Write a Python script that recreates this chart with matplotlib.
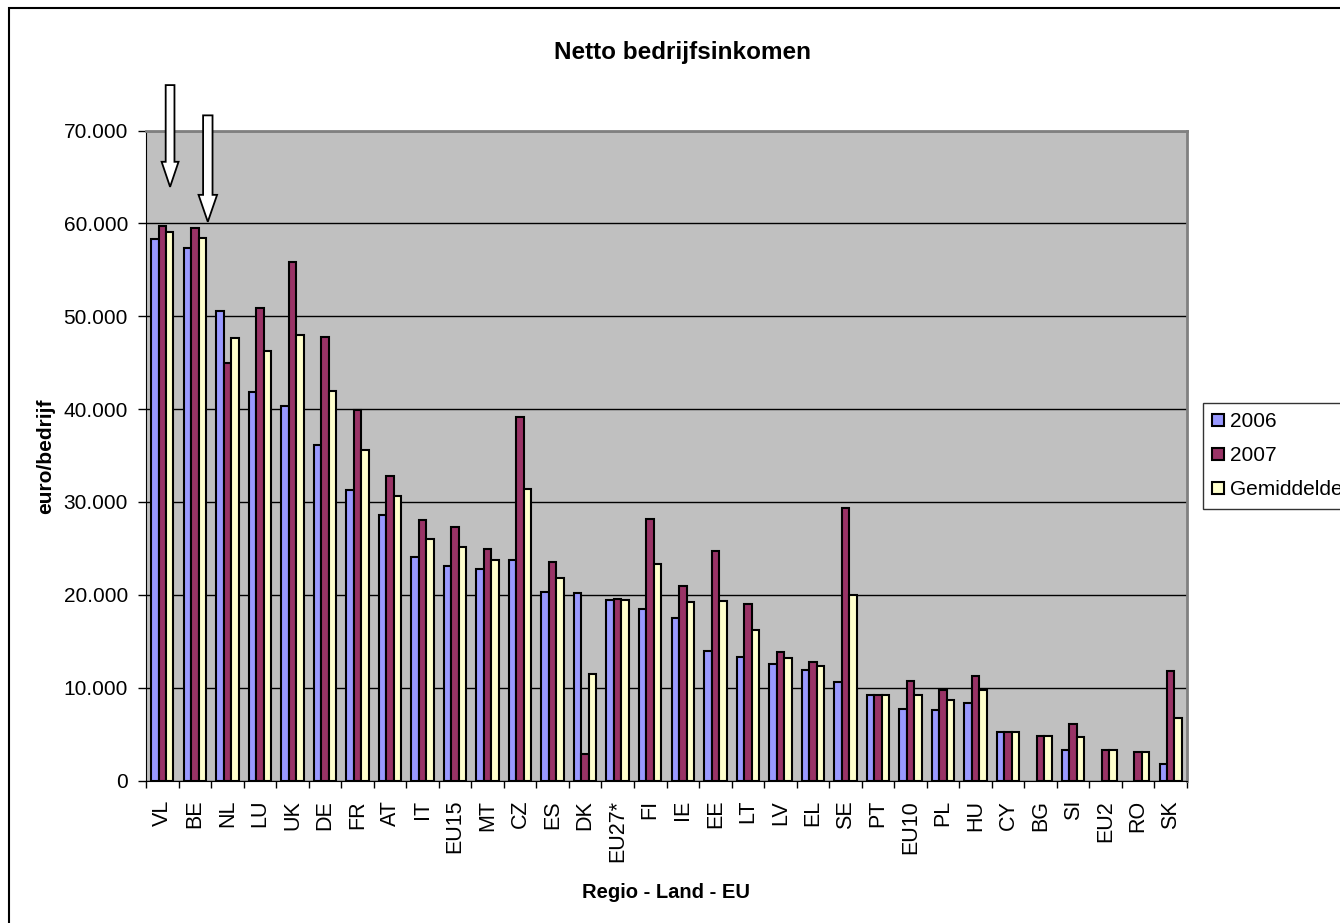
import matplotlib
matplotlib.use("Agg")
import matplotlib.pyplot as plt
from matplotlib.patches import FancyArrow, Rectangle
from matplotlib.ticker import FuncFormatter, FixedLocator
import numpy as np

plt.rcParams['font.family'] = ['Liberation Sans', 'DejaVu Sans']

# data (euro/bedrijf)
landen = ['VL', 'BE', 'NL', 'LU', 'UK', 'DE', 'FR', 'AT', 'IT', 'EU15', 'MT', 'CZ',
          'ES', 'DK', 'EU27*', 'FI', 'IE', 'EE', 'LT', 'LV', 'EL', 'SE', 'PT', 'EU10',
          'PL', 'HU', 'CY', 'BG', 'SI', 'EU2', 'RO', 'SK']
j2006 = [58350, 57360, 50540, 41800, 40320, 36120, 31320, 28610, 24060, 23070, 22730, 23720,
         20280, 20200, 19390, 18450, 17470, 13990, 13350, 12580, 11950, 10560, 9260, 7680,
         7580, 8400, 5210, 0, 3300, 0, 0, 1760]
j2007 = [59680, 59530, 44910, 50840, 55830, 47730, 39920, 32810, 28010, 27270, 24900, 39160,
         23510, 2810, 19560, 28190, 21000, 24700, 19050, 13820, 12710, 29300, 9160, 10700,
         9800, 11240, 5240, 4780, 6100, 3300, 3090, 11780]
gemiddelde = [59040, 58450, 47680, 46290, 48020, 41950, 35620, 30680, 26040, 25150, 23770, 31420,
              21850, 11520, 19470, 23340, 19220, 19350, 16200, 13180, 12330, 19930, 9230, 9190,
              8690, 9800, 5210, 4740, 4700, 3300, 3090, 6750]
reeksen = ['2006', '2007', 'Gemiddelde']
kleuren = ['#9999FF', '#993366', '#FFFFCC']

fig = plt.figure(figsize=(13.4, 9.23), dpi=100)
ax = fig.add_axes([146 / 1340, 1 - 780.5 / 923, (1187 - 146) / 1340, (780.5 - 130.5) / 923])
ax.set_facecolor('#C0C0C0')

x = np.arange(len(landen))
w = 0.23
bars = []
for i, (vals, kl) in enumerate(zip([j2006, j2007, gemiddelde], kleuren)):
    b = ax.bar(x + (i - 1) * w, vals, w, color=kl, edgecolor='black',
               linewidth=1.5, zorder=3)
    # empty values are not drawn at all
    for r, v in zip(b.patches, vals):
        if v == 0:
            r.set_visible(False)
    bars.append(b)

ax.set_xlim(-0.5, len(landen) - 0.5)
ax.set_ylim(0, 70000)
ax.set_yticks(np.arange(0, 70001, 10000))
ax.yaxis.set_major_formatter(FuncFormatter(lambda v, p: '0' if v == 0 else '{:,.0f}'.format(v).replace(',', '.')))
ax.grid(axis='y', color='black', linewidth=1, zorder=1)

# labels in the middle of the groups, tick marks between them
ax.set_xticks(x)
ax.set_xticklabels(landen, rotation=90)
ax.xaxis.set_minor_locator(FixedLocator(np.arange(-0.5, len(landen), 1)))
ax.tick_params(axis='x', which='major', length=0, pad=14, labelsize=15.5)
ax.tick_params(axis='x', which='minor', length=5, width=1, direction='out')
ax.tick_params(axis='y', length=6, width=1, pad=7, labelsize=15)

for s in ['top', 'right']:
    ax.spines[s].set_color('#808080')
    ax.spines[s].set_linewidth(2)
ax.spines['left'].set_color('black')
ax.spines['bottom'].set_color('black')

# white arrows pointing at VL and BE
pijlen = [(0.24, 74890, 63930, 0.27, 0.52, 2700), (1.40, 71630, 60170, 0.29, 0.57, 2900)]
for px, top, tip, sw, hw, hl in pijlen:
    ax.add_patch(FancyArrow(px, top, 0, tip - top, width=sw, head_width=hw, head_length=hl,
                            length_includes_head=True, fc='white', ec='black', lw=1.3,
                            clip_on=False, zorder=5))

fig.text(683 / 1340, 1 - 52 / 923, 'Netto bedrijfsinkomen', ha='center', va='center',
         fontsize=17.5, fontweight='bold')
fig.text(46 / 1340, 1 - 456 / 923, 'euro/bedrijf', ha='center', va='center', rotation=90,
         fontsize=15, fontweight='bold')
fig.text(666 / 1340, 1 - 893 / 923, 'Regio - Land - EU', ha='center', va='center',
         fontsize=14.5, fontweight='bold')

leg = fig.legend(bars, reeksen, loc='upper left', bbox_to_anchor=(1203 / 1340, 1 - 403 / 923),
                 fontsize=15, frameon=True, fancybox=False, handlelength=0.55, handleheight=0.55,
                 handletextpad=0.3, labelspacing=0.72, borderpad=0.45, borderaxespad=0)
leg.get_frame().set_edgecolor('black')
leg.get_frame().set_linewidth(1)

# outer chart border, runs off the right and bottom edge
fig.patches.append(Rectangle((9 / 1340, -0.1), 1.2, 1 - 8.5 / 923 + 0.1, transform=fig.transFigure,
                             fill=False, ec='black', lw=1.5))

plt.savefig('out.png', dpi=100)
